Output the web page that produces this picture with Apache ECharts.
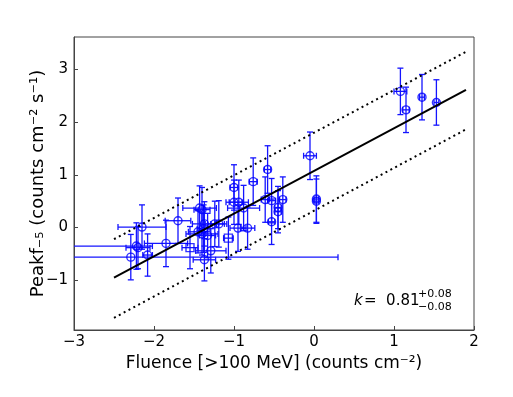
<!DOCTYPE html>
<html>
<head>
<meta charset="utf-8">
<script src="https://cdn.jsdelivr.net/npm/echarts@6/dist/echarts.min.js"></script>
<style>
  html, body { margin: 0; padding: 0; background: #fff; }
  #main { width: 513px; height: 397px; }
</style>
</head>
<body>
<div id="main"></div>
<script>
// fluence (x) and peak flux (y), log10 values
var xs = [-2.29, -2.22, -2.20, -2.15, -2.08, -1.85, -1.70, -1.55, -1.43, -1.40,
          -1.37, -1.45, -1.38, -1.33, -1.40, -1.37, -1.29, -1.24, -1.19, -1.07,
          -1.00, -1.00, -0.94, -0.95, -0.88, -0.83, -0.76, -0.58, -0.61, -0.53,
          -0.39, -0.45, -0.45, -0.53, -0.05, 0.03, 0.03, 1.08, 1.15, 1.35, 1.53];
var ys = [-0.56, -0.35, -0.38, 0.01, -0.52, -0.30, 0.13, -0.38, 0.37, 0.34,
          0.07, -0.08, -0.02, -0.15, -0.12, -0.61, -0.44, 0.07, 0.07, -0.20,
          0.76, 0.48, 0.48, -0.01, 0.37, -0.01, 0.87, 1.10, 0.53, 0.51,
          0.53, 0.38, 0.30, 0.11, 1.36, 0.54, 0.50, 2.58, 2.23, 2.47, 2.37];
var xErrLo = [2.70, 1.00, 0.15, 0.30, 0.06, 0.27, 0.16, 0.10, 0.21, 0.10,
              0.15, 0.12, 0.08, 0.10, 0.20, 0.14, 0.19, 0.12, 0.10, 0.06,
              0.05, 0.10, 0.12, 0.10, 0.20, 0.09, 0.05, 0.04, 0.05, 0.05,
              0.04, 0.04, 0.04, 0.04, 0.08, 0.03, 0.03, 0.08, 0.04, 0.03, 0.03];
var xErrHi = [2.59, 0.20, 0.15, 0.30, 0.06, 0.27, 0.16, 0.10, 0.21, 0.10,
              0.15, 0.12, 0.08, 0.10, 0.20, 0.14, 0.19, 0.12, 0.10, 0.06,
              0.05, 0.10, 0.12, 0.10, 0.20, 0.09, 0.05, 0.04, 0.05, 0.05,
              0.04, 0.04, 0.04, 0.04, 0.08, 0.03, 0.03, 0.08, 0.04, 0.03, 0.03];
var yErr = [0.43, 0.44, 0.40, 0.42, 0.40, 0.44, 0.43, 0.40, 0.42, 0.42,
            0.42, 0.40, 0.45, 0.42, 0.40, 0.40, 0.42, 0.43, 0.44, 0.40,
            0.43, 0.42, 0.42, 0.44, 0.43, 0.40, 0.45, 0.45, 0.43, 0.42,
            0.43, 0.40, 0.40, 0.43, 0.45, 0.44, 0.42, 0.44, 0.43, 0.43, 0.43];
var squareIdx = [7, 19];

// fit line and its scatter band
var fitX = [-2.5, 1.9];
var fitY = [-0.95, 2.61];
var upperY = [-0.22, 3.33];
var lowerY = [-1.71, 1.86];

var xTicks = [-3, -2, -1, 0, 1, 2];
var yTicks = [-1, 0, 1, 2, 3];

var blue = '#0000ff';
var barColor = '#1414ff';

var errData = [];
var ptData = [];
for (var i = 0; i < xs.length; i++) {
  errData.push([xs[i], ys[i], xs[i] - xErrLo[i], xs[i] + xErrHi[i], ys[i] - yErr[i], ys[i] + yErr[i]]);
  ptData.push({
    value: [xs[i], ys[i]],
    symbol: squareIdx.indexOf(i) >= 0 ? 'rect' : 'circle'
  });
}

function minus(v) { return String(v).replace('-', '\u2212'); }

function renderErr(params, api) {
  var cs = params.coordSys;
  var x = api.value(0), y = api.value(1);
  var c = api.coord([x, y]);
  var xl = api.coord([api.value(2), y])[0];
  var xh = api.coord([api.value(3), y])[0];
  var yl = api.coord([x, api.value(4)])[1];
  var yh = api.coord([x, api.value(5)])[1];
  var st = { stroke: barColor, lineWidth: 1.3 };
  var cap = 3;
  var kids = [];
  var xl2 = Math.max(xl, cs.x), xh2 = Math.min(xh, cs.x + cs.width);
  kids.push({ type: 'line', shape: { x1: xl2, y1: c[1], x2: xh2, y2: c[1] }, style: st });
  if (xl >= cs.x) kids.push({ type: 'line', shape: { x1: xl, y1: c[1] - cap, x2: xl, y2: c[1] + cap }, style: st });
  if (xh <= cs.x + cs.width) kids.push({ type: 'line', shape: { x1: xh, y1: c[1] - cap, x2: xh, y2: c[1] + cap }, style: st });
  kids.push({ type: 'line', shape: { x1: c[0], y1: yl, x2: c[0], y2: yh }, style: st });
  kids.push({ type: 'line', shape: { x1: c[0] - cap, y1: yl, x2: c[0] + cap, y2: yl }, style: st });
  kids.push({ type: 'line', shape: { x1: c[0] - cap, y1: yh, x2: c[0] + cap, y2: yh }, style: st });
  return { type: 'group', children: kids };
}

var chartDom = document.getElementById('main');
var myChart = echarts.init(chartDom);
var font = 'DejaVu Sans';
var axisCol = '#444';

var option = {
  animation: false,
  backgroundColor: '#fff',
  textStyle: { fontFamily: font },
  grid: { left: 74, right: 39, top: 37, bottom: 67, show: true, borderColor: axisCol, borderWidth: 1 },
  xAxis: {
    type: 'value', min: -3, max: 2, interval: 1,
    name: 'Fluence [>100 MeV] (counts cm\u207B\u00B2)',
    nameLocation: 'middle', nameGap: 22,
    nameTextStyle: { fontSize: 17, color: '#000', fontFamily: font, verticalAlign: 'top' },
    axisLine: { show: true, onZero: false, lineStyle: { color: axisCol } },
    axisTick: { inside: true, length: 4, lineStyle: { color: axisCol } },
    axisLabel: { fontSize: 15, color: '#000', fontFamily: font, margin: 5, formatter: minus },
    splitLine: { show: false }
  },
  yAxis: {
    type: 'value', min: -1.94, max: 3.61,
    name: 'Peakf\u208B\u2085 (counts cm\u207B\u00B2 s\u207B\u00B9)',
    nameLocation: 'middle', nameGap: 27, nameRotate: 90, nameMoveOverlap: false,
    nameTextStyle: { fontSize: 18, color: '#000', fontFamily: font },
    axisLine: { show: true, onZero: false, lineStyle: { color: axisCol } },
    axisTick: { inside: true, length: 4, customValues: yTicks, lineStyle: { color: axisCol } },
    axisLabel: { fontSize: 15, color: '#000', fontFamily: font, margin: 6, customValues: yTicks, formatter: minus },
    splitLine: { show: false }
  },
  graphic: [
    { type: 'text', x: 354, y: 294, style: { text: 'k', font: 'italic 15px "DejaVu Sans"', fill: '#000' } },
    { type: 'text', x: 364, y: 294, style: { text: '=  0.81', font: '15px "DejaVu Sans"', fill: '#000' } },
    { type: 'text', x: 418, y: 289, style: { text: '+0.08', font: '11px "DejaVu Sans"', fill: '#000' } },
    { type: 'text', x: 418, y: 302, style: { text: '\u22120.08', font: '11px "DejaVu Sans"', fill: '#000' } }
  ],
  series: [
    {
      type: 'custom',
      renderItem: renderErr,
      data: errData,
      encode: { x: [0, 2, 3], y: [1, 4, 5] },
      z: 2,
      silent: true
    },
    {
      type: 'scatter',
      data: ptData,
      symbolSize: 8,
      itemStyle: { color: 'rgba(0,0,0,0)', borderColor: blue, borderWidth: 1.4 },
      z: 3
    },
    {
      type: 'line',
      data: [[fitX[0], fitY[0]], [fitX[1], fitY[1]]],
      symbol: 'none',
      lineStyle: { color: '#000', width: 2 },
      z: 4
    },
    {
      type: 'line',
      data: [[fitX[0], upperY[0]], [fitX[1], upperY[1]]],
      symbol: 'none',
      lineStyle: { color: '#000', width: 2, type: [2, 3.5] },
      z: 4
    },
    {
      type: 'line',
      data: [[fitX[0], lowerY[0]], [fitX[1], lowerY[1]]],
      symbol: 'none',
      lineStyle: { color: '#000', width: 2, type: [2, 3.5] },
      z: 4
    }
  ]
};

option && myChart.setOption(option);
</script>
</body>
</html>
